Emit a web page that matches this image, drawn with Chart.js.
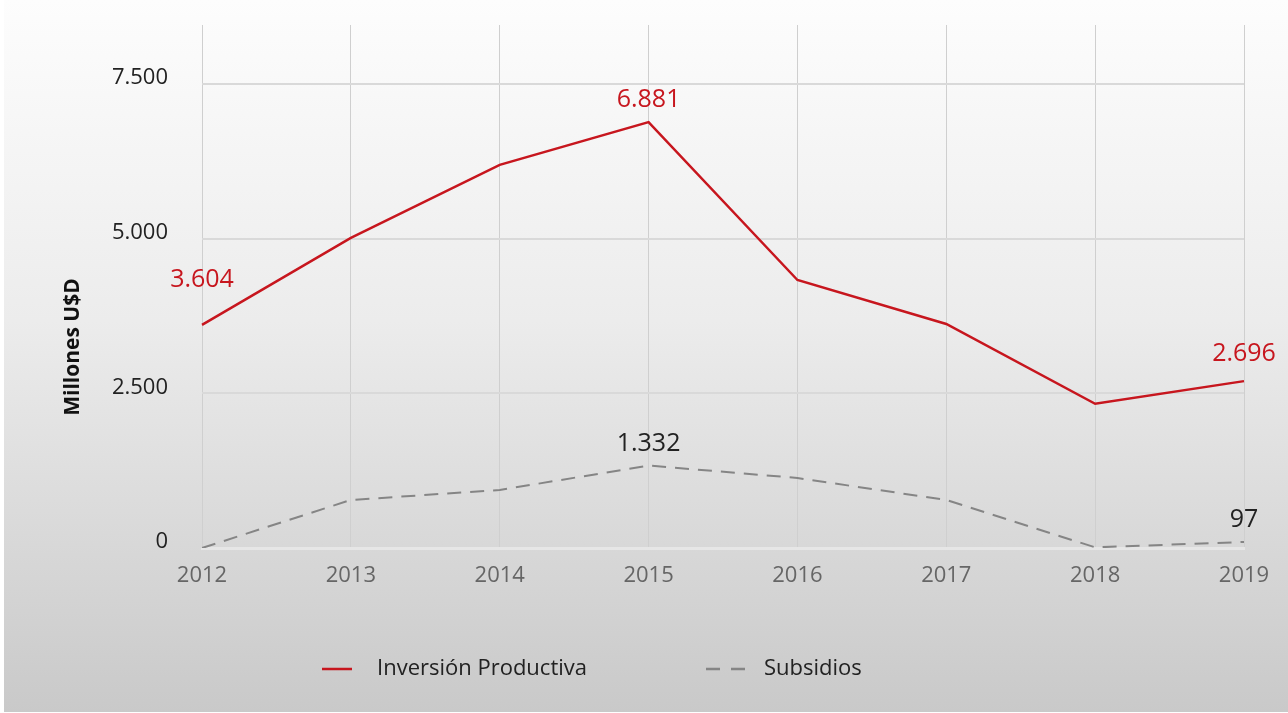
<!DOCTYPE html>
<html>
<head>
<meta charset="utf-8">
<script src="https://cdn.jsdelivr.net/npm/chart.js@4.4.1/dist/chart.umd.min.js"></script>
<style>
  html, body { margin: 0; padding: 0; background: #fff; }
  #fondo {
    position: absolute; left: 4px; top: 0; width: 1284px; height: 712px;
    background: linear-gradient(to bottom, #fdfdfd 0%, #ececec 45%, #c9c9c9 100%);
  }
  #wrap { position: absolute; left: 0; top: 0; width: 1288px; height: 713px; }
</style>
</head>
<body>
<div id="fondo"></div>
<div id="wrap"><canvas id="grafico" width="1288" height="713"></canvas></div>
<script>
const anios = ["2012", "2013", "2014", "2015", "2016", "2017", "2018", "2019"];
const inversion = [3604, 5010, 6190, 6881, 4330, 3620, 2330, 2696];
const subsidios = [0, 776, 937, 1332, 1131, 776, 10, 97];
const ticksY = [0, 2500, 5000, 7500];
// puntos con etiqueta: primero, maximo y ultimo
const etiquetasInversion = [0, 3, 7];
const etiquetasSubsidios = [3, 7];

const ROJO = "#c7161e";
const GRIS = "#858585";
const FUENTE = "'Open Sans', 'Noto Sans', sans-serif";

function formatoMiles(v) {
  return v.toLocaleString("es-ES", { useGrouping: "always" }).replace(/,/g, ".");
}

// separacion vertical de la etiqueta segun el punto
function separacion(serie, j, total) {
  if (serie === 0 && j === 0) return 45;
  if (serie === 0 && j === total - 1) return 27;
  return 22;
}

const pluginExtras = {
  id: "extras",
  afterDatasetsDraw(chart) {
    const ctx = chart.ctx;
    const indices = [etiquetasInversion, etiquetasSubsidios];
    const colores = [ROJO, "#222"];
    ctx.save();
    ctx.font = "25px " + FUENTE;
    ctx.textAlign = "center";
    ctx.textBaseline = "middle";
    chart.data.datasets.forEach((ds, i) => {
      const meta = chart.getDatasetMeta(i);
      ctx.fillStyle = colores[i];
      indices[i].forEach(j => {
        const p = meta.data[j];
        let x = p.x;
        if (j === ds.data.length - 1) x = Math.min(x, chart.width - 41);
        ctx.fillText(formatoMiles(ds.data[j]), x, p.y - separacion(i, j, ds.data.length));
      });
    });

    // titulo eje Y
    ctx.save();
    ctx.translate(73, 347);
    ctx.rotate(-Math.PI / 2);
    ctx.font = "bold 21px " + FUENTE;
    ctx.fillStyle = "#111";
    ctx.fillText("Millones U$D", 0, 0);
    ctx.restore();

    // leyenda
    ctx.font = "22px " + FUENTE;
    ctx.textAlign = "left";
    ctx.fillStyle = "#222";
    ctx.lineWidth = 2.5;
    ctx.strokeStyle = ROJO;
    ctx.beginPath(); ctx.moveTo(322, 669); ctx.lineTo(352, 669); ctx.stroke();
    ctx.fillText(chart.data.datasets[0].label, 377, 669);
    ctx.strokeStyle = GRIS;
    ctx.setLineDash([14, 11]);
    ctx.beginPath(); ctx.moveTo(706, 669); ctx.lineTo(750, 669); ctx.stroke();
    ctx.setLineDash([]);
    ctx.fillText(chart.data.datasets[1].label, 764, 669);
    ctx.restore();
  }
};

const ctx = document.getElementById("grafico").getContext("2d");

new Chart(ctx, {
  type: "line",
  data: {
    labels: anios,
    datasets: [
      {
        label: "Inversión Productiva",
        data: inversion,
        borderColor: ROJO,
        borderWidth: 2.5,
        pointRadius: 0,
        tension: 0
      },
      {
        label: "Subsidios",
        data: subsidios,
        borderColor: GRIS,
        borderWidth: 2,
        borderDash: [14, 9],
        pointRadius: 0,
        tension: 0
      }
    ]
  },
  options: {
    responsive: false,
    animation: false,
    layout: { padding: { top: 25, right: 44, left: 0, bottom: 0 } },
    plugins: {
      legend: { display: false },
      tooltip: { enabled: false }
    },
    scales: {
      x: {
        offset: false,
        grid: { color: "#cfcfcf", lineWidth: 1, drawTicks: false },
        border: { display: true, color: "#e6e6e6", width: 3 },
        ticks: {
          color: "#666",
          font: { family: FUENTE, size: 22 },
          padding: 15,
          maxRotation: 0
        },
        afterFit(scale) { scale.height = 165; scale.paddingTop = 0; scale.paddingBottom = 0; }
      },
      y: {
        min: 0,
        max: 8450,
        afterBuildTicks(scale) { scale.ticks = ticksY.map(v => ({ value: v })); },
        grid: { color: "#d9d9d9", lineWidth: 2, drawTicks: false },
        border: { display: false },
        ticks: {
          color: "#222",
          font: { family: FUENTE, size: 22 },
          padding: 34,
          labelOffset: -6,
          callback: v => formatoMiles(v)
        },
        afterFit(scale) { scale.width = 202; scale.paddingTop = 0; scale.paddingBottom = 0; }
      }
    }
  },
  plugins: [pluginExtras]
});
</script>
</body>
</html>
